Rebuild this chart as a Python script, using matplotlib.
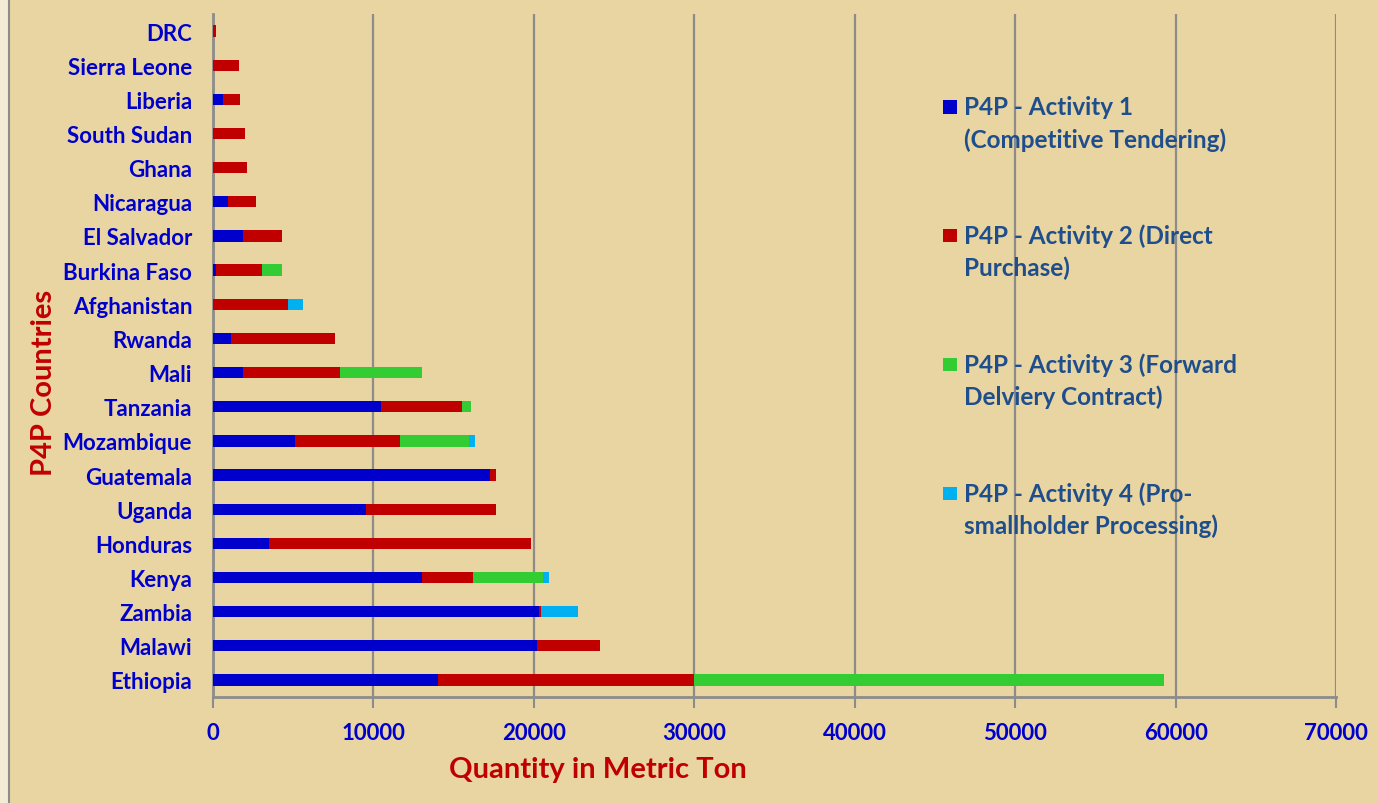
import matplotlib
matplotlib.use("Agg")
import matplotlib.pyplot as plt
from matplotlib.patches import Patch, Rectangle
from matplotlib.legend_handler import HandlerPatch
from matplotlib.lines import Line2D

countries = ["Ethiopia", "Malawi", "Zambia", "Kenya", "Honduras", "Uganda", "Guatemala",
             "Mozambique", "Tanzania", "Mali", "Rwanda", "Afghanistan", "Burkina Faso",
             "El Salvador", "Nicaragua", "Ghana", "South Sudan", "Liberia", "Sierra Leone", "DRC"]
activity1 = [14000, 20200, 20300, 13000, 3500, 9550, 17250, 5100, 10450, 1900, 1100, 0, 200,
             1900, 950, 0, 0, 600, 0, 0]
activity2 = [16000, 3900, 150, 3200, 16350, 8100, 400, 6550, 5050, 6000, 6500, 4700, 2850,
             2400, 1750, 2150, 2000, 1100, 1600, 200]
activity3 = [29250, 0, 0, 4350, 0, 0, 0, 4300, 600, 5100, 0, 0, 1250,
             0, 0, 0, 0, 0, 0, 0]
activity4 = [0, 0, 2300, 400, 0, 0, 0, 400, 0, 0, 0, 900, 0,
             0, 0, 0, 0, 0, 0, 0]
series_labels = ["P4P - Activity 1\n(Competitive Tendering)",
                 "P4P - Activity 2 (Direct\nPurchase)",
                 "P4P - Activity 3 (Forward\nDelviery Contract)",
                 "P4P - Activity 4 (Pro-\nsmallholder Processing)"]
xticks = [0, 10000, 20000, 30000, 40000, 50000, 60000, 70000]

colors = ["#0000CC", "#C00000", "#33CC33", "#00B0F0"]
BG = "#E9D5A2"
FONT = "Lato"

W, H = 1378, 804
fig = plt.figure(figsize=(W / 100, H / 100), dpi=100, facecolor=BG)
ax = fig.add_axes([213 / W, 1 - 698 / H, (1336 - 213) / W, (698 - 15) / H])
ax.set_facecolor("none")

# left border strip
fig.patches.append(Rectangle((0, 0), 8 / W, 1, transform=fig.transFigure,
                             facecolor="#F3EBD6", edgecolor="none", zorder=0))
fig.add_artist(Line2D([8.5 / W, 8.5 / W], [0, 1], transform=fig.transFigure,
                      color="#8C8C8C", lw=1.5))

y = list(range(len(countries)))
left = [0] * len(countries)
bh = 0.33
for vals, col, lab in zip([activity1, activity2, activity3, activity4], colors, series_labels):
    ax.barh(y, vals, left=left, height=bh, color=col, label=lab, zorder=3)
    left = [a + b for a, b in zip(left, vals)]

ax.set_xlim(0, 70000)
ax.set_ylim(-0.5, len(countries) - 0.5)
ax.set_xticks(xticks)
ax.set_xticklabels([str(v) for v in xticks])
ax.set_yticks(y)
ax.set_yticklabels(countries)

for lbl in ax.get_yticklabels():
    lbl.set_fontfamily(FONT)
    lbl.set_fontweight("bold")
    lbl.set_fontsize(16)
    lbl.set_color("#0000CC")
for lbl in ax.get_xticklabels():
    lbl.set_fontfamily(FONT)
    lbl.set_fontweight("bold")
    lbl.set_fontsize(16)
    lbl.set_color("#0000CC")

ax.tick_params(axis="y", length=0, pad=15)
ax.tick_params(axis="x", length=8, width=1.5, color="#8C8C8C", pad=10)
ax.grid(axis="x", color="#8C8C8C", lw=1.6, zorder=1)
ax.set_axisbelow(True)
for s in ["top", "right"]:
    ax.spines[s].set_visible(False)
for s in ["left", "bottom"]:
    ax.spines[s].set_color("#8C8C8C")
    ax.spines[s].set_linewidth(2)

fig.text(598 / W, 1 - 770 / H, "Quantity in Metric Ton", ha="center", va="center",
         fontfamily=FONT, fontweight="bold", fontsize=21, color="#C00000")
fig.text(44 / W, 1 - 383 / H, "P4P Countries", ha="center", va="center", rotation=90,
         fontfamily=FONT, fontweight="bold", fontsize=21, color="#C00000")


def top_square(legend, orig_handle, xdescent, ydescent, width, height, fontsize):
    s = 0.56 * fontsize
    return Rectangle((-xdescent, -ydescent + height - s + 0.17 * fontsize), s, s)


handles = [Patch(facecolor=c, edgecolor="none") for c in colors]
leg = ax.legend(handles, series_labels, loc="upper left",
                bbox_to_anchor=(942 / W, 1 - 84 / H), bbox_transform=fig.transFigure,
                frameon=False, handlelength=0.56, handleheight=2.2, handletextpad=0.3,
                labelspacing=3.0, borderpad=0,
                prop={"family": FONT, "weight": "bold", "size": 17.5},
                handler_map={Patch: HandlerPatch(patch_func=top_square)})
for t in leg.get_texts():
    t.set_color("#1F4E8C")
    t.set_linespacing(1.45)

fig.canvas.draw()
# align legend with the reference position (marker left edge at x~943 px)
bb = leg.get_window_extent()
shift = (943 - bb.x0) / W
leg.set_bbox_to_anchor((942 / W + shift, 1 - 84 / H), transform=fig.transFigure)

fig.savefig("out.png", dpi=100, facecolor=BG)
